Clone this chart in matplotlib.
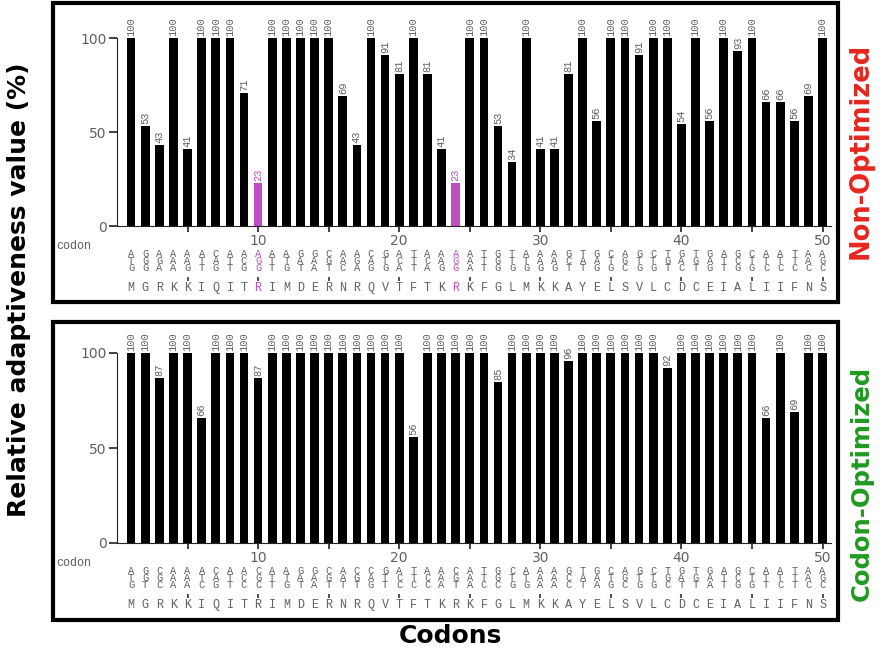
import matplotlib
matplotlib.use('Agg')
import matplotlib.pyplot as plt
from matplotlib.patches import Rectangle
import numpy as np

W, H = 885, 655

# relative adaptiveness values (%) per codon position
non_opt = [100, 53, 43, 100, 41, 100, 100, 100, 71, 23,
           100, 100, 100, 100, 100, 69, 43, 100, 91, 81,
           100, 81, 41, 23, 100, 100, 53, 34, 100, 41,
           41, 81, 100, 56, 100, 100, 91, 100, 100, 54,
           100, 56, 100, 93, 100, 66, 66, 56, 69, 100]
opt = [100, 100, 87, 100, 100, 66, 100, 100, 100, 87,
       100, 100, 100, 100, 100, 100, 100, 100, 100, 100,
       56, 100, 100, 100, 100, 100, 85, 100, 100, 100,
       100, 96, 100, 100, 100, 100, 100, 100, 92, 100,
       100, 100, 100, 100, 100, 66, 100, 69, 100, 100]

aa = list("MGRKKIQITRIMDERNRQVTFTKRKFGLMKKAYELSVLCDCEIALIIFNS")

codons_non = ["ATG", "GGG", "AGA", "AAA", "AAG", "ATT", "CAG", "ATT", "ACG", "AGG",
              "ATT", "ATG", "GAT", "GAA", "CGT", "AAC", "AGA", "CAG", "GTG", "ACA",
              "TTT", "ACA", "AAG", "AGG", "AAA", "TTT", "GGG", "TTG", "ATG", "AAG",
              "AAG", "GCT", "TAT", "GAG", "CTG", "AGC", "GTG", "CTG", "TGT", "GAC",
              "TGT", "GAG", "ATT", "GCG", "CTG", "ATC", "ATC", "TTC", "AAC", "AGC"]
codons_opt = ["ATG", "GGT", "CGC", "AAA", "AAA", "ATC", "CAG", "ATT", "ACC", "CGC",
              "ATT", "ATG", "GAT", "GAA", "CGT", "AAT", "CGT", "CAG", "GTT", "ACC",
              "TTC", "ACC", "AAA", "CGT", "AAA", "TTC", "GGC", "CTG", "ATG", "AAA",
              "AAA", "GCC", "TAT", "GAA", "CTG", "AGC", "GTG", "CTG", "TGC", "GAT",
              "TGT", "GAA", "ATT", "GCG", "CTG", "ATT", "ATC", "TTT", "AAC", "AGC"]

rare_pos = [10, 24]  # highlighted in the non-optimized gene

gray = '#606060'
magenta = '#c24cc4'
mono = 'Liberation Mono'

fig = plt.figure(figsize=(W / 100, H / 100), dpi=100)


def px_box(x0, y_top, x1, y_bot):
    return [x0 / W, 1 - y_bot / H, (x1 - x0) / W, (y_bot - y_top) / H]


def panel(vals, codons, y_top, y_bot, highlight):
    ax = fig.add_axes(px_box(117, y_top, 831, y_bot))
    hpx = y_bot - y_top
    pos = np.arange(1, 51)
    cols = [magenta if p in highlight else 'black' for p in pos]
    ax.bar(pos, vals, width=0.62, color=cols)
    ax.set_xlim(0.0, 50.6)
    ax.set_ylim(0, 100)
    for s in ['top', 'right']:
        ax.spines[s].set_visible(False)
    ax.spines['left'].set_color('#222222')
    ax.spines['bottom'].set_color('#222222')
    ax.set_yticks([0, 50, 100])
    ax.set_xticks(np.arange(5, 51, 5))
    ax.set_xticklabels(['' if t % 10 else str(t) for t in range(5, 51, 5)])
    ax.tick_params(axis='both', colors='#222222', labelcolor=gray,
                   labelsize=10, length=4, width=1.2, pad=1.5)
    ax.tick_params(axis='y', length=6)

    # value labels above bars
    for p, v in zip(pos, vals):
        c = magenta if p in highlight else gray
        ax.annotate(str(v), (p, v), xytext=(0, 2), textcoords='offset pixels',
                    rotation=90, ha='center', va='bottom', fontsize=7.5,
                    family=mono, color=c, annotation_clip=False)

    tr = ax.get_xaxis_transform()
    f = lambda d: -d / hpx
    ax.text(-4.3, f(20), 'codon', transform=tr, ha='left', va='center',
            fontsize=8.5, family=mono, color=gray, clip_on=False)
    for p, cod, a in zip(pos, codons, aa):
        c = magenta if p in highlight else gray
        for k, ch in enumerate(cod):
            ax.text(p, f(28 + 7 * k), ch, transform=tr, ha='center', va='center',
                    fontsize=7.5, family=mono, color=c, clip_on=False)
        ax.text(p, f(62), a, transform=tr, ha='center', va='center',
                fontsize=8.5, family=mono, color=c, clip_on=False)
    mark_x = pos[4::5]
    ax.plot(mark_x, [f(53)] * len(mark_x), linestyle='none', marker='|',
            markersize=3, markeredgewidth=1.2, color='#333333',
            transform=tr, clip_on=False)
    return ax


# panel frames
for (x0, y0, x1, y1) in [(53, 3, 838, 302), (53, 322, 838, 620)]:
    fig.patches.append(Rectangle((x0 / W, 1 - y1 / H), (x1 - x0) / W, (y1 - y0) / H,
                                 transform=fig.transFigure, fill=False,
                                 edgecolor='black', linewidth=3))

panel(non_opt, codons_non, 38, 226, rare_pos)
panel(opt, codons_opt, 353, 543, [])

bold = dict(fontweight='bold', family='DejaVu Sans')
fig.text(19 / W, 1 - 290 / H, 'Relative adaptiveness value (%)', rotation=90,
         ha='center', va='center', fontsize=18, **bold)
fig.text(450 / W, 1 - 636 / H, 'Codons', ha='center', va='center',
         fontsize=18, **bold)
fig.text(861 / W, 1 - 151 / H, 'Non-Optimized', rotation=90, ha='center',
         va='center', fontsize=18.5, color='#e6261f', **bold)
fig.text(862 / W, 1 - 483 / H, 'Codon-Optimized', rotation=90, ha='center',
         va='center', fontsize=17.5, color='#1f9a1f', **bold)

fig.savefig('out.png', dpi=100)
